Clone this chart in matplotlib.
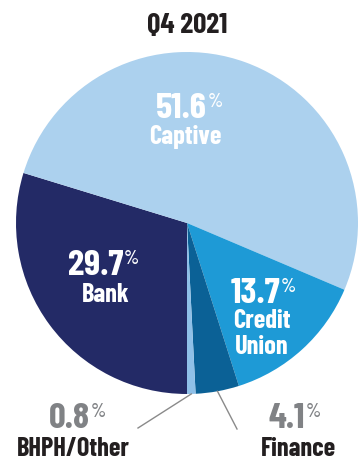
import matplotlib
matplotlib.use("Agg")
import matplotlib.pyplot as plt
import numpy as np

SEGMENTS = ["Bank", "Captive", "Credit\nUnion", "Finance", "BHPH/Other"]
SHARES = [29.7, 51.6, 13.7, 4.1, 0.8]
COLORS = ["#232a66", "#acd1ee", "#1e9ad6", "#0b6196", "#8fc0e8"]
TITLE = "Q4 2021"

plt.rcParams["font.family"] = ["Barlow Condensed", "DejaVu Sans"]

W, H = 361, 460


def Y(y):
    # work in pixel rows measured from the top
    return H - y


fig = plt.figure(figsize=(W / 100, H / 100), dpi=100)
ax = fig.add_axes([0, 0, 1, 1])
cx, cy, R = 187, Y(224), 171
wedges, _ = ax.pie(SHARES, colors=COLORS, startangle=-90, counterclock=False,
                   center=(cx, cy), radius=R, wedgeprops=dict(linewidth=0))
ax.set_xlim(0, W)
ax.set_ylim(0, H)
ax.set_aspect("equal")
ax.axis("off")

ax.text(187, Y(33), TITLE, ha="center", va="baseline", fontsize=21,
        fontweight="bold", color="#231f20")


def pct_label(i, x_split, y_num, y_name, x_name, num_color, name_color,
              num_size=26.5, name_size=19):
    ax.text(x_split, Y(y_num), f"{SHARES[i]:.1f}", ha="right", va="baseline",
            fontsize=num_size, fontweight="bold", color=num_color)
    ax.text(x_split + 1, Y(y_num - 11), "%", ha="left", va="baseline",
            fontsize=num_size * 0.53, fontweight="medium", color=num_color)
    for k, line in enumerate(SEGMENTS[i].split("\n")):
        ax.text(x_name, Y(y_name + 26 * k), line, ha="center", va="baseline",
                fontsize=name_size, fontweight="bold", color=name_color)


# labels inside the pie
pct_label(1, 207, 118, 144, 185, "white", "white")
pct_label(0, 123, 275, 302, 106, "white", "white")
pct_label(2, 280, 303, 328, 262, "white", "white")

# small slices get labels outside with leader lines
gray = "#808285"
pct_label(4, 90, 428, 456, 73, gray, "#231f20")
pct_label(3, 305, 428, 456, 298, gray, "#231f20")

for w, end in [(wedges[4], (138, Y(429))), (wedges[3], (237, Y(430)))]:
    mid = np.deg2rad((w.theta1 + w.theta2) / 2)
    start = (cx + R * np.cos(mid), cy + R * np.sin(mid))
    ax.plot([start[0], end[0]], [start[1], end[1]], color="#8a8a8a", lw=1)

fig.savefig("out.png", dpi=100, facecolor="white")
